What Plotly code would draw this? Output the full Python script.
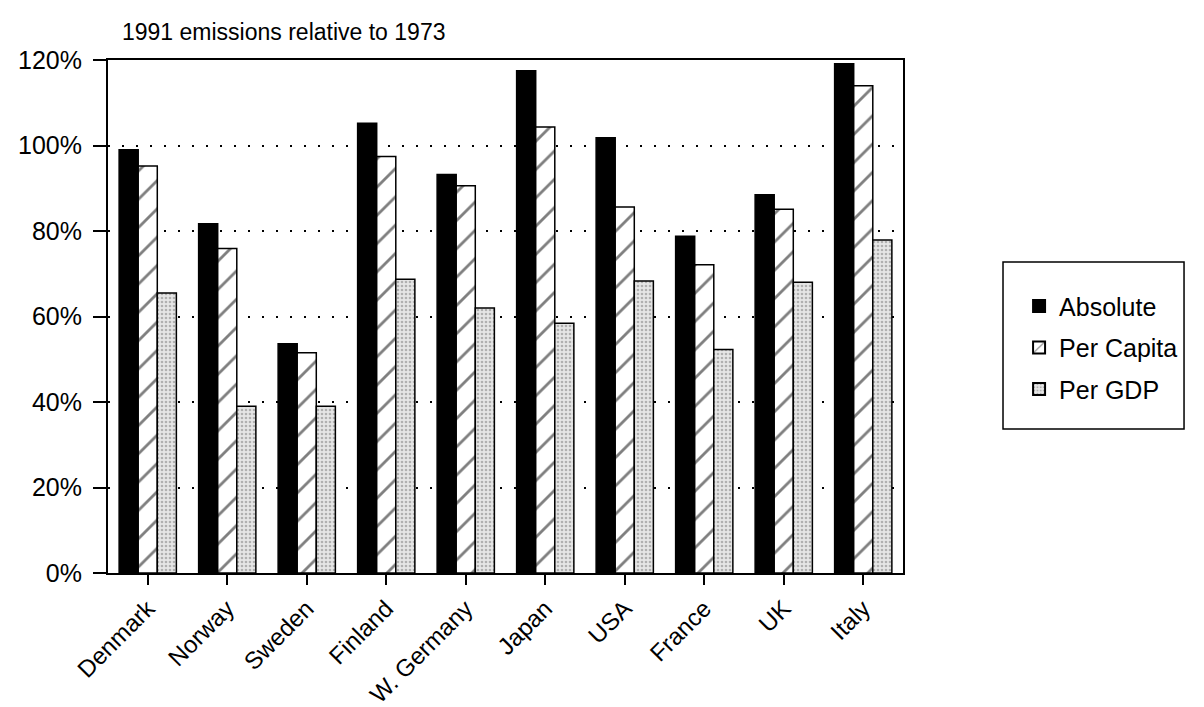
import plotly.graph_objects as go

countries = ["Denmark", "Norway", "Sweden", "Finland", "W. Germany", "Japan", "USA", "France", "UK", "Italy"]
absolute = [99.0, 81.7, 53.6, 105.2, 93.2, 117.5, 101.8, 78.8, 88.5, 119.1]
per_capita = [95.2, 75.9, 51.5, 97.4, 90.6, 104.3, 85.6, 72.1, 85.1, 114.0]
per_gdp = [65.5, 39.0, 39.0, 68.7, 62.0, 58.4, 68.3, 52.3, 68.0, 77.9]
y_ticks = [0, 20, 40, 60, 80, 100, 120]
y_tick_text = ["0%", "20%", "40%", "60%", "80%", "100%", "120%"]

font_family = "Liberation Sans, Arial, sans-serif"

fig = go.Figure()
fig.add_trace(go.Bar(
    x=countries, y=absolute, name="Absolute", legendgroup="a",
    marker=dict(color="black", line=dict(color="black", width=1.5)),
))
fig.add_trace(go.Bar(
    x=countries, y=per_capita, name="Per Capita", legendgroup="b",
    marker=dict(color="white", line=dict(color="black", width=1.5),
                pattern=dict(shape="/", fgcolor="black", bgcolor="white", size=20, solidity=0.14)),
))
fig.add_trace(go.Bar(
    x=countries, y=per_gdp, name="Per GDP", legendgroup="c",
    marker=dict(color="#dcdcdc", line=dict(color="black", width=1.5),
                pattern=dict(shape=".", fgcolor="#7a7a7a", bgcolor="#e6e6e6", size=4, solidity=0.35)),
))

# page body has an 8px margin, so figure is placed at (8, 8) on screen
fig.update_layout(
    width=1196, height=699,
    paper_bgcolor="white", plot_bgcolor="white",
    barmode="group", bargap=0.28, bargroupgap=0,
    margin=dict(l=100, r=301, t=52, b=134, autoexpand=False),
    font=dict(family=font_family, size=22, color="black"),
    title=dict(text="1991 emissions relative to 1973", x=114/1196, xanchor="left",
               y=1 - 24/699, yanchor="middle", font=dict(size=23, family=font_family)),
    legend=dict(x=1.146, y=0.565, xanchor="left", yanchor="top",
                borderwidth=0, bgcolor="rgba(0,0,0,0)",
                font=dict(size=25, family=font_family),
                itemsizing="constant", tracegroupgap=6),
    shapes=[dict(type="rect", xref="paper", yref="paper",
                 x0=1.1258, x1=1.3535, y0=0.2807, y1=0.606,
                 line=dict(color="black", width=1.5), fillcolor="rgba(0,0,0,0)")],
    showlegend=True,
)
fig.update_xaxes(
    showline=True, linecolor="black", linewidth=2, mirror=True,
    ticks="outside", ticklen=10, tickcolor="black", tickwidth=1.5,
    tickangle=-45, tickfont=dict(size=24), showgrid=False,
)
fig.update_yaxes(
    range=[0, 120], tickvals=y_ticks, ticktext=y_tick_text,
    showline=True, linecolor="black", linewidth=2, mirror=True,
    ticks="outside", ticklen=13, tickcolor="black", tickwidth=1.5,
    tickfont=dict(size=25), ticklabelstandoff=6,
    showgrid=True, gridcolor="black", gridwidth=2, griddash="2px,12px",
    zeroline=False,
)

fig.write_html("out.html")
